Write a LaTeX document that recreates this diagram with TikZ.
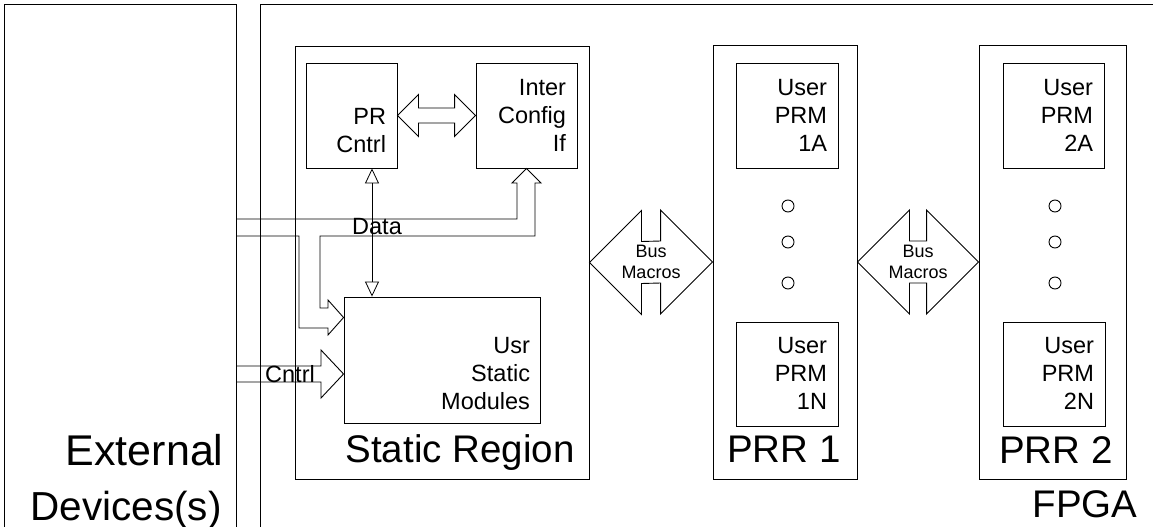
\documentclass[tikz,border=0pt]{standalone}
\usepackage{fontspec}
\setmainfont{Liberation Sans}
\usetikzlibrary{calc,arrows.meta}

% hollow double arrow between two anchors: left tip, right tip, head size, shaft half width
\newcommand{\hollowdbl}[4]{%
  \draw ($(#1)$) -- ++(#3,-#3) -- ++(0,#3-#4) -- ($(#2)+(-#3,-#4)$) -- ++(0,-#3+#4)
    -- (#2) -- ++(-#3,#3) -- ++(0,-#3+#4) -- ($(#1)+(#3,#4)$) -- ++(0,#3-#4) -- cycle;}

\begin{document}
\begin{tikzpicture}[
		x=1pt,y=-1pt,
		line width=0.9pt,line join=miter,
		box/.style={draw,rectangle,inner sep=0pt},
		boxtext/.style={anchor=north east,inner sep=0pt,align=right,font=\fontsize{23.5}{28}\selectfont},
		bigtext/.style={anchor=base east,inner sep=0pt,font=\fontsize{38.5}{46}\selectfont},
		smalltext/.style={inner sep=0pt,font=\fontsize{23.5}{28}\selectfont}
	]
	\useasboundingbox (0,0) rectangle (1153,527);

	% outer regions
	\node[box,minimum width=232pt,minimum height=540pt] (ext) at (120,274) {};
	\node[box,minimum width=910pt,minimum height=540pt] (fpga) at (715,274) {};

	% static region
	\node[box,minimum width=294pt,minimum height=433pt] (static) at (442,262.5) {};
	\node[box,minimum width=91pt,minimum height=105pt] (prctl) at (351.5,115.5) {};
	\node[box,minimum width=101pt,minimum height=105pt] (icif) at (526.5,115.5) {};
	\node[box,minimum width=196pt,minimum height=126pt] (usm) at (442,360) {};

	% reconfigurable regions
	\node[box,minimum width=144pt,minimum height=434pt] (prr1) at (785,262) {};
	\node[box,minimum width=102pt,minimum height=105pt] (p1a) at (787,115.5) {};
	\node[box,minimum width=102pt,minimum height=104pt] (p1n) at (787,374) {};
	\node[box,minimum width=147pt,minimum height=434pt] (prr2) at (1052.5,262) {};
	\node[box,minimum width=101pt,minimum height=105pt] (p2a) at (1053.5,115.5) {};
	\node[box,minimum width=102pt,minimum height=104pt] (p2n) at (1054,374) {};

	% box texts
	\node[boxtext] at ($(prctl.north east)+(-11,45)$) {PR\\Cntrl};
	\node[boxtext] at ($(icif.north east)+(-11,16)$) {Inter\\Config\\If};
	\node[boxtext] at ($(usm.north east)+(-10,40)$) {Usr\\Static\\Modules};
	\node[boxtext] at ($(p1a.north east)+(-11,16)$) {User\\PRM\\1A};
	\node[boxtext] at ($(p1n.north east)+(-11,15)$) {User\\PRM\\1N};
	\node[boxtext] at ($(p2a.north east)+(-11,16)$) {User\\PRM\\2A};
	\node[boxtext] at ($(p2n.north east)+(-11,15)$) {User\\PRM\\2N};

	% region labels
	\node[bigtext,font=\fontsize{43}{50}\selectfont] at (224,465) {External};
	\node[bigtext,font=\fontsize{40.5}{46}\selectfont] at (222,520) {Devices(s)};
	\node[bigtext] at (575,462) {Static Region};
	\node[bigtext] at (841,462) {PRR 1};
	\node[bigtext] at (1113,463) {PRR 2};
	\node[bigtext] at (1138,517) {FPGA};

	% dots
	\foreach \px in {788,1055}
	\foreach \py in {206,242,283}
	\draw (\px,\py) circle (6pt);

	% PR Cntrl <-> Inter Config If
	\hollowdbl{prctl.east}{icif.west}{21}{7.5}

	% bus macros
	\hollowdbl{static.east}{prr1.west}{52}{21}
	\hollowdbl{prr1.east}{prr2.west}{52}{21}
	\node[inner sep=0pt,align=center,font=\fontsize{18}{21}\selectfont] (bm1) at ($(static.east)!0.5!(prr1.west)$) {Bus\\Macros};
	\node[inner sep=0pt,align=center,font=\fontsize{18}{21}\selectfont] (bm2) at ($(prr1.east)!0.5!(prr2.west)$) {Bus\\Macros};

	% PR Cntrl <-> Usr Static Modules
	\coordinate (cfg) at ($(prctl.south)+(20.5,0)$);
	\draw[{Triangle[open,length=15pt,width=14pt]}-{Triangle[open,length=15pt,width=14pt]},line width=0.8pt]
		(cfg) -- (cfg |- usm.north);

	% data bus
	\draw (ext.east |- 0,219) -- (517,219) -- (517,183) -- (512,183) -- (icif.south)
		-- (541,183) -- (535,183) -- (535,236) -- (320,236) -- (320,308) -- (328,308)
		-- (328,300) -- (usm.west |- 0,317.5) -- (328,335) -- (328,328) -- (299,328)
		-- (299,236) -- (ext.east |- 0,236);
	\node[smalltext] (data) at (377,227) {Data};

	% control bus
	\draw (ext.east |- 0,366) -- (321,366) -- (321,350) -- (usm.west |- 0,374)
		-- (321,398) -- (321,382) -- (ext.east |- 0,382);
	\node[smalltext] (cntrl) at (290,374) {Cntrl};
\end{tikzpicture}
\end{document}
